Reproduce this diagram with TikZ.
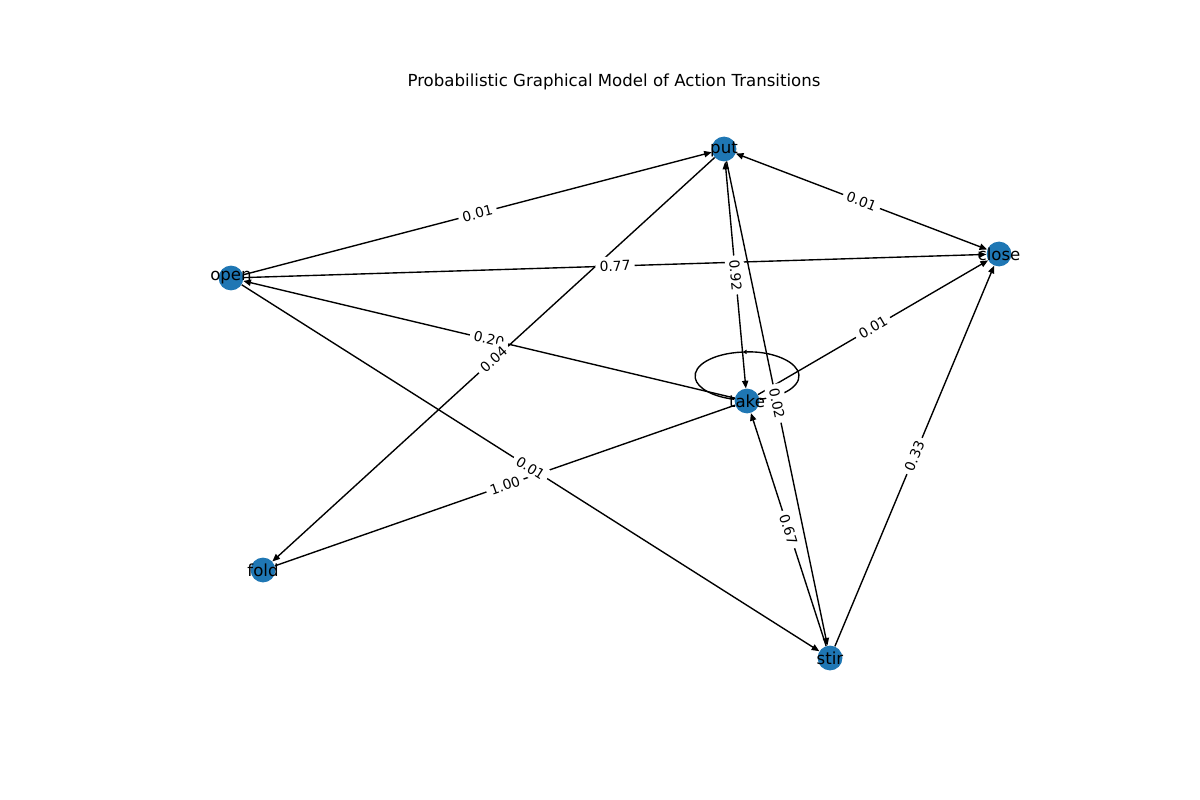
\documentclass[tikz,border=0pt]{standalone}
\usepackage{fontspec}
\setmainfont{DejaVu Sans}
\usetikzlibrary{arrows.meta}
\definecolor{nxblue}{RGB}{31,119,180}

\begin{document}
\begin{tikzpicture}[x=0.0254cm, y=-0.0254cm, font=\fontsize{12}{14}\selectfont,
  state/.style={circle, fill=nxblue, minimum size=0.63cm, inner sep=0pt},
  edge/.style={line width=1pt, -{Triangle[length=5.5pt,width=4.5pt]}},
  twoway/.style={line width=1pt, {Triangle[length=5.5pt,width=4.5pt]}-{Triangle[length=5.5pt,width=4.5pt]}},
  plain/.style={line width=1pt},
  prob/.style={midway, sloped, fill=white, rounded corners=3pt, inner sep=3pt, font=\fontsize{10}{12}\selectfont}]
\useasboundingbox (0,0) rectangle (1200,800);

\node (title) at (614,82) {Probabilistic Graphical Model of Action Transitions};

% states
\node[state, label=center:put] (put) at (724,149) {};
\node[state, label=center:close] (close) at (999,254) {};
\node[state, label=center:open] (open) at (231,278) {};
\node[state, label=center:take] (take) at (747,401) {};
\node[state, label=center:fold] (fold) at (263,570) {};
\node[state, label=center:stir] (stir) at (830,658) {};

% transitions
\draw[edge] (open) -- (put);
\draw[edge] (put) -- (fold);
\draw[edge] (open) -- (close);
\draw[twoway] (put) -- (close);
\draw[edge] (take) -- (open);
\draw[edge] (take) -- (close);
\draw[twoway] (put) -- (take);
\draw[plain] (take) -- (fold);
\draw[edge] (open) -- (stir);
\draw[edge] (stir) -- (take);
\draw[edge] (put) -- (stir);
\draw[edge] (stir) -- (close);

% self loop on take
\draw[line width=1pt, -{Triangle[length=3pt,width=3pt]}] (take.center) ++(0,-25) ++(-76:1.32cm and 0.61cm)
  arc[start angle=-76, end angle=95, x radius=1.32cm, y radius=0.61cm];
\draw[plain] (take.center) ++(0,-25) ++(95:1.32cm and 0.61cm)
  arc[start angle=95, end angle=256, x radius=1.32cm, y radius=0.61cm];

% probabilities
\path (open) -- (put) node[prob] {0.01};
\path (open) -- (close) node[prob] {0.77};
\path (put) -- (close) node[prob] {0.01};
\path (take) -- (open) node[prob] {0.20};
\path (put) -- (fold) node[prob] {0.04};
\path (take) -- (close) node[prob] {0.01};
\path (put) -- (take) node[prob] {0.92};
\path (take) -- (fold) node[prob] {1.00};
\path (open) -- (stir) node[prob] {0.01};
\path (stir) -- (take) node[prob] {0.67};
\path (put) -- (stir) node[prob] {0.02};
\path (stir) -- (close) node[prob] {0.33};
\end{tikzpicture}
\end{document}
